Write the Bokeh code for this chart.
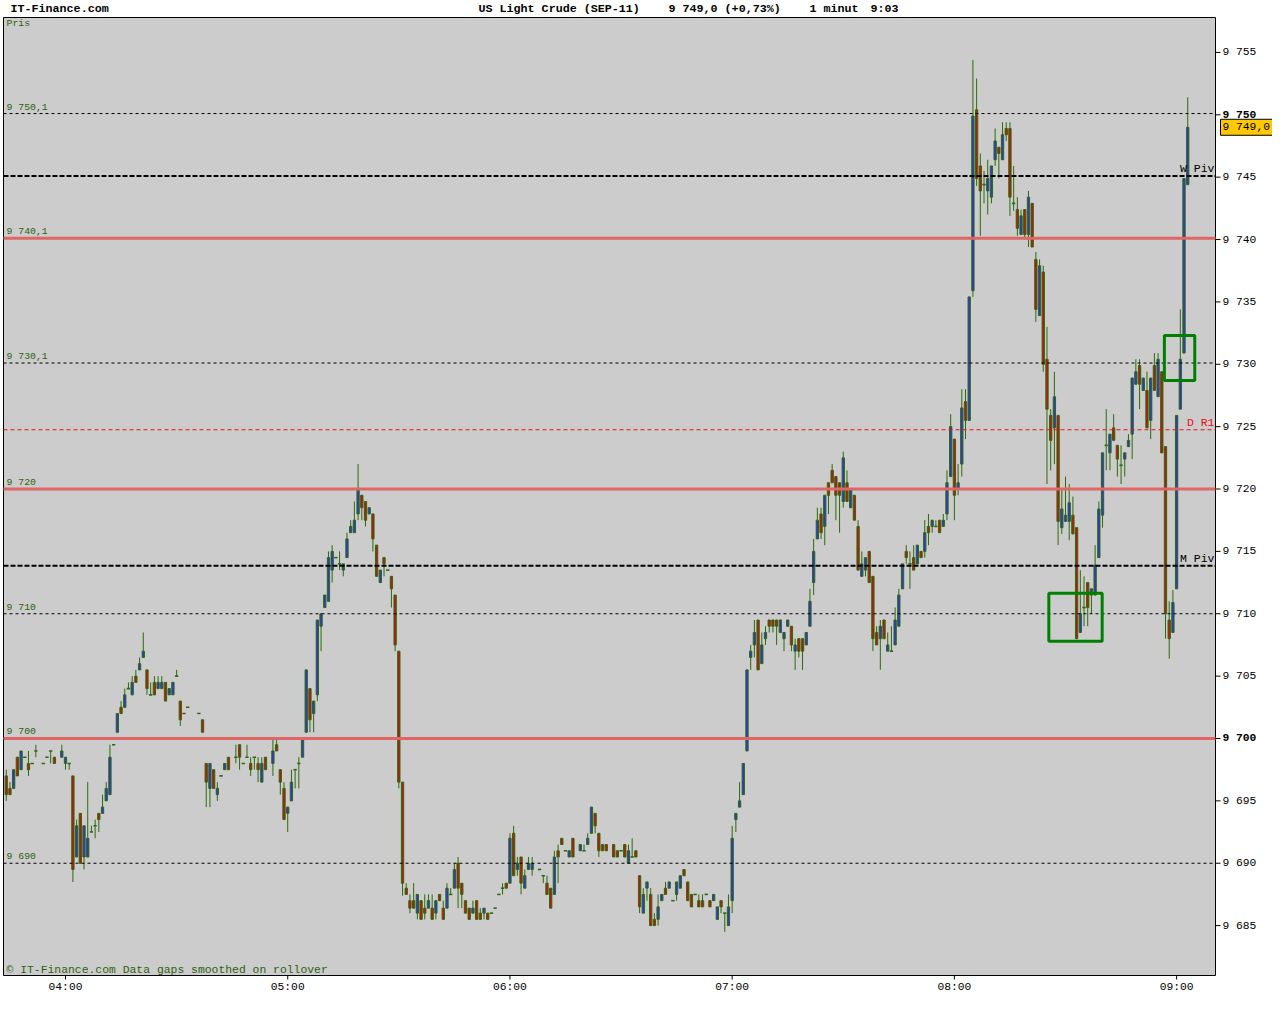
from bokeh.plotting import figure
from bokeh.models import Range1d
from bokeh.embed import file_html
from bokeh.resources import INLINE
from bokeh.core.properties import value

# ---------------- data (1-minute bars, minute index from 03:44) ----------------
start_minute = 224  # 03:44
bar_index = [
    0, 1, 2, 3, 4, 5, 6, 7, 8, 10, 11, 12, 13, 15, 16, 17, 18, 19, 20, 21, 22, 23, 24, 25, 26, 27, 28, 29,
    30, 31, 32, 33, 34, 35, 36, 37, 38, 39, 40, 41, 42, 43, 44, 45, 46, 47, 48, 49, 52, 53, 54,
    55, 56, 57, 58, 59, 60, 62, 63, 64, 65, 66, 67, 68, 69, 70, 72, 73, 74, 75, 76, 77, 78, 79,
    80, 81, 82, 83, 84, 85, 86, 87, 88, 89, 90, 91, 92, 93, 94, 95, 96, 97, 98, 99, 100, 101,
    102, 103, 104, 105, 106, 107,
    108, 109, 110, 111, 112, 113, 114, 115, 116, 117, 118, 119, 120, 121, 122, 123, 124, 125,
    126, 127, 128, 129, 130, 131, 132, 133, 134, 135, 136, 137, 138, 139, 140, 141, 142, 144,
    145, 146, 147, 148, 149, 150, 151, 152, 153, 155, 156, 157, 158, 159, 160, 161, 162, 164,
    165, 166, 167, 168, 169, 170,
    171, 172, 173, 174, 175, 176, 177, 178, 179, 180, 181, 182, 183, 184, 185, 186, 187, 188,
    189, 190, 191, 192, 193, 194, 195, 196, 197, 198, 199, 200, 201, 202, 203, 204, 205, 206,
    207, 208, 209, 210, 211, 212, 213, 214, 215, 216, 217,
    218, 219, 220, 221, 222, 223, 224, 225,
    226, 227, 228, 229, 230, 231, 232, 233, 234, 235, 236, 237, 238, 239, 240, 241, 242, 243,
    244, 245, 246, 247, 248, 249, 250, 251, 252, 253, 254, 255, 256, 257, 258, 259,
    260, 261, 262, 263, 264, 265, 266, 267, 268, 269, 270, 271, 272, 273, 274, 275, 276, 277,
    278, 279, 280, 281, 282, 283, 284, 285, 286, 287, 288, 289, 290, 291, 292, 293, 294, 295,
    296, 297, 298, 299, 300, 301, 302, 303, 304, 305, 306, 307, 308, 309, 310, 311, 312, 313,
    314, 315, 316, 317, 318, 319,
]
bar_open = [
    9697.0, 9696.0, 9696.0, 9698.5, 9697.5, 9698.5, 9698.0, 9698.0, 9699.0, 9698.0, 9698.5, 9699.0, 9698.5, 9698.5, 9698.0, 9698.0, 9697.0, 9690.5, 9694.0, 9690.5, 9690.5, 9692.5, 9693.0, 9694.0, 9694.0, 9695.0, 9695.5, 9699.5,
    9700.5, 9702.5, 9702.5, 9704.0, 9703.5, 9705.0, 9705.5, 9706.5, 9705.5, 9703.5, 9704.5, 9704.0, 9704.0, 9704.5, 9703.5, 9703.5, 9705.0, 9703.0, 9702.0, 9702.5, 9702.0, 9701.5, 9698.0,
    9696.0, 9697.5, 9695.5, 9697.0, 9697.5, 9698.5, 9698.5, 9699.5, 9698.0, 9698.5, 9698.0, 9698.5, 9698.0, 9696.5, 9698.5, 9698.0, 9699.5, 9697.5, 9696.0, 9694.0, 9695.0, 9697.5, 9698.0,
    9698.5, 9700.5, 9704.0, 9702.0, 9703.5, 9709.0, 9710.5, 9711.0, 9713.5, 9714.5, 9714.0, 9713.5, 9714.5, 9716.5, 9716.5, 9718.0, 9719.5, 9719.0, 9718.0, 9718.0, 9715.5, 9712.5,
    9714.5, 9713.5, 9713.0, 9711.5, 9707.0, 9696.5,
    9688.0, 9687.0, 9687.0, 9686.0, 9687.0, 9686.4, 9686.4, 9686.4, 9686.0, 9687.5, 9686.4, 9686.4, 9687.5, 9688.0, 9690.0, 9688.4, 9687.0, 9686.4,
    9686.0, 9687.0, 9686.0, 9686.0, 9686.0, 9686.0, 9686.4, 9687.5, 9688.0, 9688.4, 9688.4, 9692.4, 9689.5, 9690.5, 9688.0, 9689.5, 9689.5, 9689.5,
    9689.0, 9688.4, 9688.0, 9687.5, 9691.0, 9692.0, 9691.0, 9690.5, 9692.0, 9691.0, 9691.0, 9691.5, 9692.4, 9694.0, 9692.4, 9691.5, 9691.5, 9691.5,
    9691.0, 9691.0, 9691.5, 9690.0, 9690.5, 9691.0,
    9689.0, 9686.0, 9688.0, 9687.5, 9685.5, 9685.5, 9687.0, 9688.0, 9688.0, 9687.0, 9687.5, 9688.0, 9689.5, 9688.5, 9687.5, 9687.5, 9687.0, 9687.0,
    9687.5, 9687.0, 9687.0, 9685.5, 9687.0, 9686.0, 9685.0, 9687.0, 9693.5, 9694.5, 9695.5, 9699.0, 9706.5, 9707.5, 9709.5, 9706.0, 9708.0, 9709.5,
    9709.5, 9709.5, 9708.5, 9708.0, 9709.0, 9709.0, 9707.0, 9708.0, 9708.0, 9707.5, 9709.0,
    9712.5, 9716.0, 9718.0, 9717.0, 9720.5, 9721.5, 9721.0, 9720.5,
    9719.0, 9720.5, 9718.5, 9719.5, 9717.0, 9713.0, 9713.5, 9715.0, 9713.0, 9708.5, 9708.0, 9709.5, 9707.0, 9707.0, 9707.5, 9709.0, 9712.0, 9715.0,
    9714.0, 9714.5, 9714.0, 9715.0, 9715.0, 9717.0, 9717.0, 9717.0, 9717.5, 9717.0, 9718.0, 9721.0, 9724.0, 9720.0, 9722.0, 9727.0,
    9725.5, 9735.9, 9750.4, 9745.9, 9744.4, 9743.9, 9743.4, 9746.4, 9747.4, 9746.4, 9748.9, 9748.9, 9742.9, 9742.4, 9740.4, 9742.4, 9740.4, 9742.9,
    9738.4, 9733.9, 9737.4, 9730.4, 9725.9, 9724.9, 9725.9, 9716.9, 9717.4, 9717.4, 9717.9, 9716.9, 9708.5, 9710.5, 9712.5, 9711.5, 9711.5, 9714.5,
    9717.9, 9723.5, 9722.9, 9724.9, 9723.5, 9721.9, 9722.4, 9723.4, 9724.4, 9728.4, 9729.9, 9727.9, 9727.9, 9725.5, 9729.9, 9727.4, 9729.4, 9723.4,
    9709.5, 9708.5, 9712.0, 9726.4, 9730.9, 9744.4,
]
bar_high = [
    9697.5, 9696.5, 9697.5, 9698.5, 9699.0, 9698.5, 9699.0, 9698.0, 9699.5, 9698.0, 9698.5, 9699.0, 9698.5, 9699.5, 9698.5, 9698.0, 9697.0, 9693.5, 9694.0, 9693.0, 9696.5, 9693.0, 9693.5, 9694.0, 9695.5, 9696.5, 9699.5, 9699.5,
    9702.0, 9703.0, 9704.0, 9704.5, 9705.0, 9705.5, 9706.5, 9708.5, 9705.5, 9704.5, 9705.0, 9705.0, 9705.0, 9704.5, 9704.0, 9704.5, 9705.5, 9703.0, 9702.0, 9702.5, 9702.0, 9701.5, 9698.0,
    9698.0, 9697.5, 9696.5, 9697.0, 9698.0, 9698.5, 9699.5, 9699.5, 9698.0, 9699.5, 9698.5, 9698.5, 9698.5, 9698.5, 9698.5, 9700.0, 9700.0, 9697.5, 9696.5, 9694.5, 9697.5, 9697.5, 9698.5,
    9700.0, 9705.5, 9704.0, 9703.0, 9709.5, 9710.0, 9711.5, 9715.0, 9715.5, 9714.5, 9715.0, 9714.0, 9716.5, 9717.5, 9719.0, 9722.0, 9719.5, 9719.0, 9718.5, 9718.0, 9715.5, 9713.5,
    9714.5, 9713.5, 9713.0, 9711.5, 9707.0, 9696.5,
    9688.4, 9687.5, 9688.4, 9687.5, 9687.0, 9687.5, 9687.5, 9687.5, 9687.0, 9687.5, 9687.0, 9688.4, 9688.0, 9690.0, 9690.5, 9688.4, 9687.0, 9686.4,
    9687.0, 9687.0, 9686.4, 9686.4, 9686.0, 9686.0, 9686.4, 9687.5, 9688.4, 9688.4, 9692.4, 9693.0, 9690.5, 9690.5, 9689.5, 9690.5, 9690.5, 9689.5,
    9689.0, 9689.0, 9688.0, 9691.0, 9691.5, 9692.0, 9691.0, 9691.0, 9692.0, 9691.5, 9691.5, 9692.4, 9694.5, 9694.0, 9692.4, 9691.5, 9691.5, 9691.5,
    9691.0, 9691.0, 9691.5, 9691.5, 9692.0, 9691.0,
    9689.0, 9688.0, 9688.5, 9688.0, 9686.0, 9687.5, 9687.5, 9688.5, 9688.5, 9687.0, 9688.5, 9689.0, 9689.5, 9688.5, 9687.5, 9687.5, 9687.5, 9687.5,
    9687.5, 9687.0, 9687.5, 9686.5, 9687.0, 9686.0, 9687.5, 9693.0, 9694.0, 9696.5, 9698.0, 9705.5, 9707.5, 9709.5, 9709.5, 9708.5, 9709.0, 9709.5,
    9709.5, 9709.5, 9709.5, 9708.5, 9709.5, 9709.0, 9708.0, 9708.0, 9708.0, 9708.5, 9712.0,
    9716.0, 9718.5, 9718.5, 9719.5, 9720.5, 9722.0, 9721.0, 9720.5,
    9723.0, 9721.5, 9720.0, 9719.5, 9717.5, 9715.0, 9714.5, 9715.0, 9713.0, 9709.0, 9709.5, 9709.5, 9708.5, 9709.0, 9710.5, 9712.0, 9714.0, 9715.5,
    9715.0, 9715.5, 9715.5, 9715.0, 9717.5, 9718.0, 9717.5, 9717.5, 9717.5, 9718.0, 9721.5, 9726.0, 9724.0, 9722.0, 9728.0, 9728.0,
    9735.4, 9754.4, 9752.9, 9746.9, 9745.5, 9746.4, 9745.9, 9748.9, 9747.4, 9749.4, 9749.4, 9749.4, 9745.9, 9743.4, 9742.4, 9742.4, 9743.9, 9742.9,
    9739.0, 9738.4, 9737.9, 9733.0, 9726.4, 9729.4, 9725.9, 9720.0, 9721.0, 9720.4, 9719.4, 9716.9, 9713.5, 9713.0, 9712.5, 9712.0, 9715.5, 9719.0,
    9722.9, 9726.4, 9724.4, 9726.0, 9723.5, 9723.5, 9722.9, 9724.4, 9728.9, 9730.4, 9730.4, 9728.9, 9729.4, 9728.9, 9730.9, 9730.9, 9729.4, 9723.4,
    9711.0, 9711.9, 9725.9, 9734.4, 9744.9, 9751.4,
]
bar_low = [
    9695.0, 9695.5, 9696.0, 9697.0, 9697.5, 9698.5, 9697.0, 9698.0, 9698.5, 9698.0, 9698.5, 9698.0, 9698.0, 9698.5, 9697.5, 9697.5, 9688.5, 9690.5, 9690.0, 9689.5, 9690.5, 9692.5, 9692.0, 9692.5, 9694.0, 9695.0, 9695.5, 9699.5,
    9700.5, 9702.0, 9702.5, 9704.0, 9703.5, 9704.5, 9705.5, 9706.5, 9703.5, 9703.5, 9703.5, 9704.0, 9704.0, 9703.0, 9703.5, 9703.5, 9705.0, 9701.0, 9702.0, 9702.5, 9702.0, 9700.5, 9694.5,
    9694.5, 9696.0, 9695.0, 9697.0, 9697.5, 9697.5, 9698.0, 9697.5, 9698.0, 9698.5, 9697.0, 9697.5, 9696.5, 9696.5, 9697.5, 9697.0, 9699.0, 9695.5, 9693.5, 9692.5, 9695.0, 9696.0, 9696.0,
    9698.5, 9700.5, 9700.5, 9700.5, 9703.0, 9707.0, 9710.5, 9711.0, 9712.5, 9714.5, 9713.5, 9713.0, 9714.5, 9716.5, 9716.5, 9717.5, 9717.5, 9717.0, 9718.0, 9715.0, 9713.0, 9712.5,
    9713.0, 9713.5, 9710.5, 9707.0, 9696.0, 9687.4,
    9687.5, 9686.0, 9686.4, 9685.5, 9685.5, 9685.5, 9686.4, 9685.5, 9685.5, 9687.0, 9685.5, 9686.4, 9687.5, 9688.0, 9686.4, 9686.4, 9686.0, 9685.5,
    9686.0, 9685.5, 9685.5, 9685.5, 9685.5, 9686.0, 9686.4, 9687.5, 9687.5, 9688.0, 9688.4, 9689.0, 9689.0, 9687.5, 9688.0, 9689.5, 9689.0, 9689.5,
    9688.4, 9687.5, 9686.4, 9687.5, 9688.4, 9691.5, 9691.0, 9690.5, 9690.5, 9691.0, 9691.0, 9691.5, 9692.4, 9692.4, 9690.5, 9691.0, 9691.0, 9690.5,
    9690.5, 9691.0, 9690.5, 9690.0, 9690.5, 9690.5,
    9686.0, 9686.0, 9687.0, 9685.0, 9685.0, 9685.0, 9687.0, 9687.5, 9688.0, 9687.0, 9687.0, 9688.0, 9689.0, 9687.0, 9686.5, 9687.5, 9686.5, 9686.5,
    9687.5, 9686.5, 9687.0, 9685.5, 9686.0, 9684.5, 9685.0, 9686.0, 9692.5, 9694.5, 9695.5, 9699.0, 9705.5, 9706.5, 9705.5, 9706.0, 9707.5, 9708.5,
    9708.5, 9707.5, 9708.5, 9707.0, 9709.0, 9707.0, 9705.5, 9706.5, 9705.5, 9707.5, 9709.0,
    9711.5, 9716.0, 9716.0, 9715.5, 9718.0, 9720.5, 9717.5, 9716.5,
    9718.5, 9719.0, 9718.5, 9717.5, 9713.5, 9713.0, 9713.0, 9712.5, 9707.0, 9707.5, 9705.5, 9708.0, 9707.0, 9707.0, 9707.5, 9709.0, 9712.0, 9714.0,
    9712.0, 9713.5, 9714.0, 9714.5, 9714.5, 9715.5, 9716.5, 9717.0, 9716.5, 9717.0, 9717.5, 9721.0, 9717.5, 9719.5, 9721.0, 9724.0,
    9725.5, 9735.4, 9744.3, 9740.3, 9742.9, 9742.0, 9742.9, 9745.9, 9744.9, 9746.4, 9747.9, 9741.9, 9742.3, 9740.3, 9740.4, 9740.0, 9739.4, 9739.4,
    9733.4, 9733.9, 9729.4, 9720.4, 9721.5, 9722.0, 9715.5, 9716.4, 9717.4, 9715.9, 9716.4, 9708.0, 9708.5, 9709.0, 9709.0, 9710.0, 9711.5, 9714.5,
    9716.9, 9721.5, 9721.5, 9723.9, 9721.0, 9720.4, 9721.0, 9723.4, 9722.4, 9728.4, 9726.4, 9727.9, 9724.9, 9724.0, 9727.9, 9727.4, 9722.9, 9708.0,
    9706.4, 9708.5, 9712.0, 9726.4, 9730.9, 9744.4,
]
bar_close = [
    9695.5, 9695.5, 9697.5, 9697.0, 9699.0, 9698.5, 9697.5, 9698.0, 9699.0, 9698.0, 9698.5, 9699.0, 9698.0, 9699.0, 9698.5, 9698.0, 9689.5, 9693.0, 9690.0, 9693.0, 9692.0, 9692.5, 9693.0, 9693.5, 9694.5, 9696.0, 9698.5, 9699.5,
    9702.0, 9702.0, 9703.5, 9704.0, 9704.5, 9704.5, 9706.0, 9707.0, 9704.0, 9703.5, 9703.5, 9704.5, 9704.5, 9703.0, 9704.0, 9704.5, 9705.0, 9701.5, 9702.0, 9702.5, 9702.0, 9700.5, 9696.5,
    9698.0, 9696.0, 9696.0, 9697.0, 9698.0, 9697.5, 9698.5, 9698.5, 9698.0, 9698.5, 9697.5, 9698.5, 9697.5, 9698.0, 9697.5, 9699.0, 9699.0, 9696.5, 9693.5, 9694.5, 9696.5, 9697.5, 9698.0,
    9700.0, 9705.5, 9701.5, 9703.0, 9709.5, 9710.0, 9711.5, 9714.5, 9715.0, 9714.5, 9714.0, 9714.0, 9716.0, 9717.0, 9717.5, 9720.0, 9718.5, 9717.5, 9718.5, 9716.0, 9713.0, 9713.5,
    9714.0, 9713.5, 9712.0, 9707.5, 9696.5, 9688.4,
    9687.5, 9686.4, 9686.4, 9687.5, 9685.5, 9686.0, 9687.0, 9685.5, 9687.0, 9687.0, 9685.5, 9688.0, 9687.5, 9689.5, 9688.0, 9687.5, 9686.0, 9685.5,
    9686.4, 9685.5, 9685.5, 9686.4, 9685.5, 9686.0, 9686.4, 9687.5, 9688.0, 9688.0, 9692.0, 9689.0, 9690.0, 9688.4, 9689.0, 9690.0, 9690.0, 9689.5,
    9689.0, 9687.5, 9686.4, 9690.5, 9690.5, 9691.5, 9691.0, 9691.0, 9690.5, 9691.5, 9691.0, 9692.0, 9694.5, 9693.0, 9691.0, 9691.0, 9691.0, 9690.5,
    9690.5, 9691.0, 9690.5, 9691.0, 9690.5, 9690.5,
    9686.5, 9687.5, 9688.5, 9685.0, 9685.0, 9686.5, 9687.5, 9687.5, 9688.5, 9687.0, 9688.5, 9689.0, 9689.0, 9687.0, 9686.5, 9687.5, 9686.5, 9686.5,
    9687.5, 9686.5, 9687.5, 9686.5, 9686.5, 9686.0, 9686.5, 9692.0, 9694.0, 9695.0, 9698.0, 9705.5, 9707.0, 9708.5, 9705.5, 9707.5, 9708.5, 9709.0,
    9709.0, 9709.0, 9709.5, 9708.5, 9709.5, 9707.5, 9707.5, 9707.0, 9707.0, 9708.5, 9711.0,
    9715.0, 9717.5, 9716.5, 9719.5, 9719.5, 9720.5, 9719.5, 9719.5,
    9722.5, 9719.0, 9720.0, 9717.5, 9713.5, 9714.0, 9714.5, 9712.5, 9708.0, 9707.5, 9709.0, 9708.0, 9707.5, 9707.0, 9709.5, 9711.5, 9714.0, 9714.5,
    9714.0, 9713.5, 9715.5, 9714.5, 9716.5, 9716.5, 9717.5, 9717.0, 9716.5, 9717.5, 9720.5, 9725.0, 9719.5, 9720.5, 9726.5, 9725.5,
    9735.4, 9749.9, 9744.9, 9743.9, 9744.4, 9744.9, 9745.9, 9747.9, 9746.9, 9748.4, 9748.4, 9743.4, 9742.9, 9740.9, 9741.9, 9740.4, 9743.4, 9739.4,
    9734.4, 9737.9, 9730.0, 9726.4, 9723.9, 9727.4, 9717.4, 9718.4, 9717.9, 9718.9, 9716.4, 9708.0, 9710.0, 9710.5, 9710.5, 9712.0, 9713.9, 9718.4,
    9722.9, 9723.5, 9724.4, 9723.9, 9722.4, 9721.9, 9722.9, 9723.9, 9728.9, 9729.4, 9728.4, 9728.9, 9724.9, 9728.9, 9727.9, 9730.4, 9722.9, 9710.0,
    9708.0, 9710.9, 9725.9, 9730.4, 9744.9, 9749.0,
]

# horizontal reference levels
level_values = [9750.1, 9740.1, 9730.1, 9720.0, 9710.0, 9700.0, 9690.0]
level_styles = ["thin", "pink", "thin", "pink", "thin", "pink", "thin"]
level_labels = ["9 750,1", "9 740,1", "9 730,1", "9 720", "9 710", "9 700", "9 690"]
pivot_values = [9745.1, 9713.85]
pivot_labels = ["W Piv", "M Piv"]
dr1_value = [9724.75]
dr1_label = ["D R1"]

# marker boxes (minutes, prices)
box_left = [505.5, 536.7]
box_right = [519.9, 544.9]
box_bottom = [9707.8, 9728.7]
box_top = [9711.65, 9732.3]

y_ticks = [9685, 9690, 9695, 9700, 9705, 9710, 9715, 9720, 9725, 9730, 9735, 9740, 9745, 9750, 9755]
y_tick_labels = ["9 685", "9 690", "9 695", "9 700", "9 705", "9 710", "9 715", "9 720",
                 "9 725", "9 730", "9 735", "9 740", "9 745", "9 750", "9 755"]
bold_ticks = [9700, 9750]
x_ticks = [240, 300, 360, 420, 480, 540]
x_tick_labels = ["04:00", "05:00", "06:00", "07:00", "08:00", "09:00"]

last_price = 9749.0
last_label = "9 749,0"
title_texts = ["IT-Finance.com", "US Light Crude (SEP-11)", "9 749,0 (+0,73%)", "1 minut", "9:03"]

# ---------------- geometry / styling ----------------
FONT = "Liberation Mono"
GREEN = "#2D6A0C"
TXT_GREEN = "#2F6210"
BLUE = "#3232E2"
RED = "#C81010"
PINK = "#E06666"

W, H = 1272, 1000
X0, X1 = 223.26, 550.5        # visible time range of the price pane (minutes)
Y0, Y1 = 9681.0, 9757.8       # visible price range of the price pane
PANE_L, PANE_R, PANE_T, PANE_B = 3, 1215, 17, 975   # pane box in canvas pixels
sx = (PANE_R - PANE_L) / (X1 - X0)
sy = (PANE_B - PANE_T) / (Y1 - Y0)
xlo = X0 - PANE_L / sx
xhi = X1 + (W - PANE_R) / sx
ylo = Y0 - (H - PANE_B) / sy
yhi = Y1 + PANE_T / sy


def px_x(px):
    return xlo + px / sx


def px_y(py):
    return yhi - py / sy


p = figure(width=W, height=H, output_backend="svg", toolbar_location=None,
           x_range=Range1d(xlo, xhi), y_range=Range1d(ylo, yhi),
           x_axis_location=None, y_axis_location=None,
           min_border_left=0, min_border_right=0, min_border_top=0, min_border_bottom=0)
p.background_fill_color = "white"
p.border_fill_color = "white"
p.outline_line_color = None
p.grid.visible = False

# price pane
p.quad(left=[X0], right=[X1], bottom=[Y0], top=[Y1], fill_color="#CCCCCC",
       line_color="black", line_width=1)

# candles
t = [start_minute + i for i in bar_index]
up_x, up_top, up_bot = [], [], []
dn_x, dn_top, dn_bot = [], [], []
dj_x, dj_y = [], []
for x, o, c in zip(t, bar_open, bar_close):
    if c > o:
        up_x.append(x); up_top.append(c); up_bot.append(o)
    elif c < o:
        dn_x.append(x); dn_top.append(o); dn_bot.append(c)
    else:
        dj_x.append(x); dj_y.append(c)

p.segment(x0=t, y0=bar_low, x1=t, y1=bar_high, line_color=GREEN, line_width=1)
p.vbar(x=up_x, width=0.62, top=up_top, bottom=up_bot, fill_color=BLUE, line_color=GREEN, line_width=1)
p.vbar(x=dn_x, width=0.62, top=dn_top, bottom=dn_bot, fill_color=RED, line_color=GREEN, line_width=1)
p.segment(x0=[x - 0.45 for x in dj_x], y0=dj_y, x1=[x + 0.45 for x in dj_x], y1=dj_y,
          line_color=GREEN, line_width=1.6)

# level lines
thin = [v for v, s in zip(level_values, level_styles) if s == "thin"]
pink = [v for v, s in zip(level_values, level_styles) if s == "pink"]
p.segment(x0=[X0] * len(thin), x1=[X1] * len(thin), y0=thin, y1=thin,
          line_color="black", line_width=1, line_dash="3 3")
p.segment(x0=[X0] * len(pink), x1=[X1] * len(pink), y0=pink, y1=pink,
          line_color=PINK, line_width=3)
p.segment(x0=[X0] * len(pivot_values), x1=[X1] * len(pivot_values), y0=pivot_values,
          y1=pivot_values, line_color="black", line_width=2, line_dash="5 2")
p.segment(x0=[X0], x1=[X1], y0=dr1_value, y1=dr1_value, line_color="#EE1111",
          line_width=1, line_dash="4 3")

# marker boxes
p.quad(left=box_left, right=box_right, bottom=box_bottom, top=box_top,
       fill_alpha=0, line_color="#008000", line_width=3)

# level labels
p.text(x=[px_x(6)] * len(level_values), y=level_values, text=level_labels,
       text_font=value(FONT), text_font_size="9.8px", text_color=TXT_GREEN,
       text_baseline="bottom", y_offset=-1)
p.text(x=[px_x(1214)] * len(pivot_values), y=pivot_values, text=pivot_labels,
       text_font=value(FONT), text_font_size="11.5px", text_color="black",
       text_align="right", text_baseline="bottom", y_offset=-1)
p.text(x=[px_x(1214)], y=dr1_value, text=dr1_label,
       text_font=value(FONT), text_font_size="11.5px", text_color="#EE1111",
       text_align="right", text_baseline="bottom", y_offset=-1)
p.text(x=[px_x(6)], y=[px_y(23)], text=["Pris"], text_font=value(FONT),
       text_font_size="9.8px", text_color=TXT_GREEN, text_baseline="middle")
p.text(x=[px_x(6)], y=[px_y(969)], text=["\u00a9 IT-Finance.com Data gaps smoothed on rollover"],
       text_font=value(FONT), text_font_size="11.4px", text_color=TXT_GREEN,
       text_baseline="middle")

# right price axis
tick_len = 5 / sx
p.segment(x0=[X1] * len(y_ticks), x1=[X1 + tick_len] * len(y_ticks), y0=y_ticks, y1=y_ticks,
          line_color="black", line_width=1)
norm_y = [v for v in y_ticks if v not in bold_ticks]
norm_lab = [l for v, l in zip(y_ticks, y_tick_labels) if v not in bold_ticks]
bold_y = [v for v in y_ticks if v in bold_ticks]
bold_lab = [l for v, l in zip(y_ticks, y_tick_labels) if v in bold_ticks]
p.text(x=[X1 + 7 / sx] * len(norm_y), y=norm_y, text=norm_lab, text_font=value(FONT),
       text_font_size="11.3px", text_color="black", text_baseline="middle")
p.text(x=[X1 + 7 / sx] * len(bold_y), y=bold_y, text=bold_lab, text_font=value(FONT),
       text_font_size="11.3px", text_font_style="bold", text_color="black",
       text_baseline="middle")

# last price box
p.quad(left=[X1 + 5 / sx], right=[X1 + 57 / sx], bottom=[last_price - 8 / sy],
       top=[last_price + 8 / sy], fill_color="#FFC800", line_color="black", line_width=1)
p.text(x=[X1 + 7 / sx], y=[last_price], text=[last_label], text_font=value(FONT),
       text_font_size="11.3px", text_color="black", text_baseline="middle")

# bottom time axis
p.segment(x0=x_ticks, x1=x_ticks, y0=[Y0] * len(x_ticks), y1=[Y0 - 4 / sy] * len(x_ticks),
          line_color="black", line_width=1)
p.text(x=x_ticks, y=[px_y(986)] * len(x_ticks), text=x_tick_labels, text_font=value(FONT),
       text_font_size="11.3px", text_color="black", text_align="center",
       text_baseline="middle")

# header line
title_px = [10, 478, 668, 809, 870]
p.text(x=[px_x(v) for v in title_px], y=[px_y(8)] * len(title_px), text=title_texts,
       text_font=value(FONT), text_font_size="11.7px", text_font_style="bold",
       text_color="black", text_baseline="middle")

open("out.html", "w").write(file_html(p, INLINE))
